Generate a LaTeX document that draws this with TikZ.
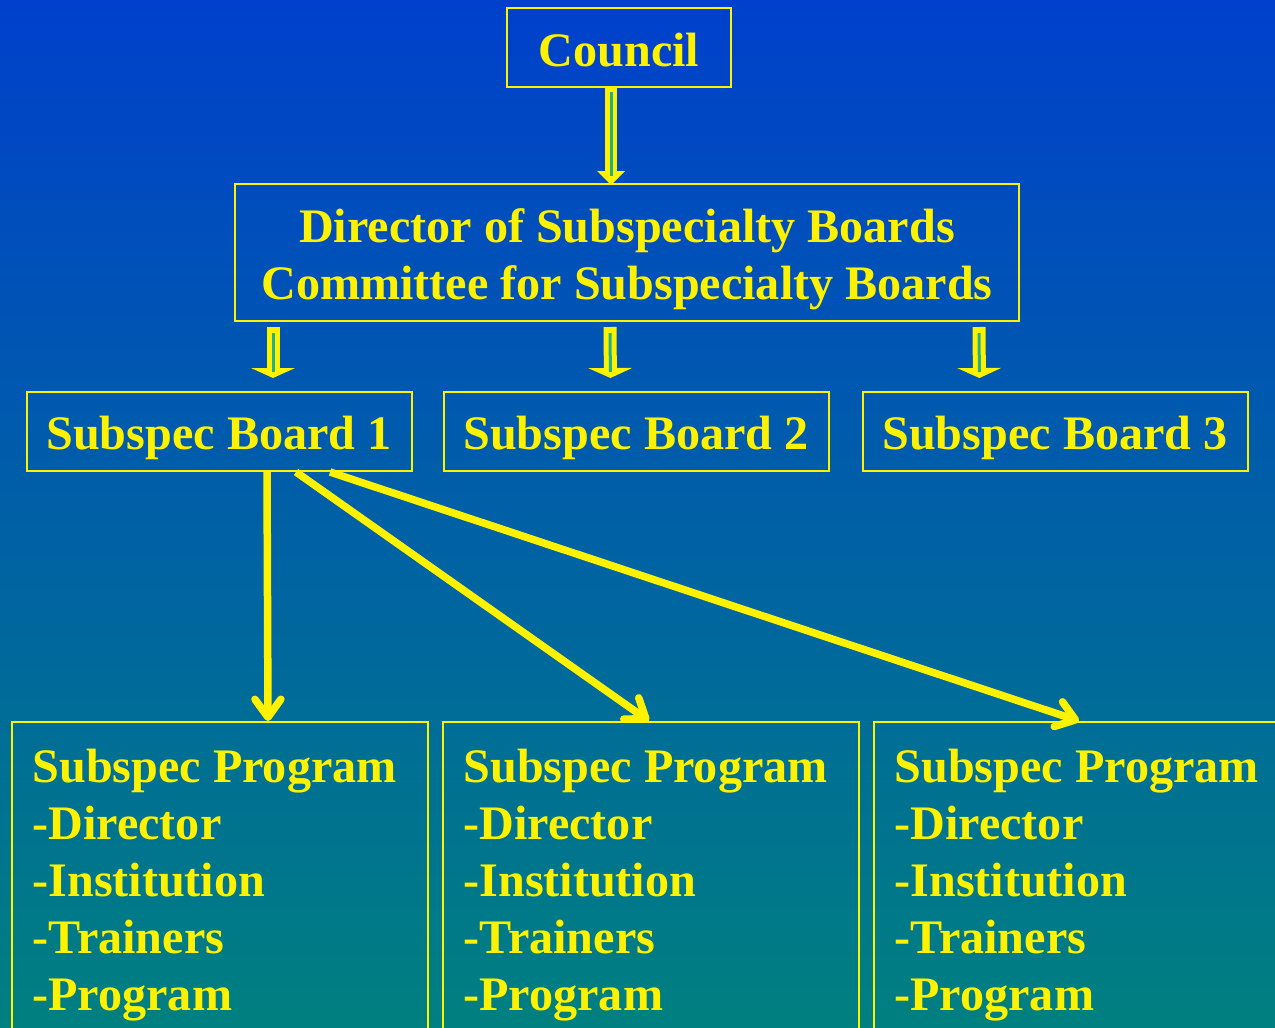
\documentclass[tikz,border=0pt]{standalone}
\usepackage{fontspec}
\setmainfont{Liberation Serif}
\usetikzlibrary{arrows.meta, positioning}

\newlength{\pxu}
\setlength{\pxu}{0.02cm}

\definecolor{bgtop}{RGB}{0,64,204}
\definecolor{bgbot}{RGB}{0,128,128}
\definecolor{core}{RGB}{32,176,144}

\tikzset{
    box/.style={draw=yellow, line width=2\pxu, inner sep=0pt, text=yellow,
        font=\fontsize{27.4}{32.4}\selectfont\bfseries},
    board/.style={box, minimum width=385\pxu, minimum height=79\pxu,
        text height=20.5pt, text depth=0pt},
    program/.style={box, minimum width=416\pxu, text width=375\pxu, align=flush left,
        inner xsep=20\pxu, inner ysep=27\pxu},
    fat/.style={draw=yellow, line width=13\pxu, shorten <=5\pxu, shorten >=13\pxu,
        -{Triangle[width=0.88cm, length=0.2cm, line width=0pt]}},
    fatcore/.style={draw=core, line width=3\pxu, shorten <=11\pxu, shorten >=19\pxu},
    thin/.style={draw=yellow, line width=7.5\pxu,
        -{Straight Barb[round, length=0.36cm, width=0.52cm]}}
}

\begin{document}
\begin{tikzpicture}[x=0.02cm, y=-0.02cm]
    % background
    \useasboundingbox (0,0) rectangle (1275,1028);
    \clip (0,0) rectangle (1275,1028);
    \shade[top color=bgtop, bottom color=bgbot] (0,0) rectangle (1275,1028);

    % top of the tree
    \node[box, minimum width=224\pxu, minimum height=79\pxu, text height=22pt, text depth=0pt]
        (council) at (619,47.5) {Council};
    \node[box, minimum width=784\pxu, minimum height=137\pxu, align=center] (director) at (627,252.5)
        {\rule{0pt}{26.6pt}Director of Subspecialty Boards\\Committee for Subspecialty Boards};

    % the boards
    \node[board] (b1) at (219,431.5) {Subspec Board 1};
    \node[board, right=30\pxu of b1] (b2) {Subspec Board 2};
    \node[board, right=32\pxu of b2] (b3) {Subspec Board 3};

    % the programs
    \node[program, anchor=north west] (p1) at (11,721)
        {Subspec Program\\-Director\\-Institution\\-Trainers\\-Program};
    \node[program, right=13\pxu of p1] (p2)
        {Subspec Program\\-Director\\-Institution\\-Trainers\\-Program};
    \node[program, right=13\pxu of p2] (p3)
        {Subspec Program\\-Director\\-Institution\\-Trainers\\-Program};

    % council to director
    \draw[fat, shorten <=0pt, shorten >=-2\pxu, line width=12\pxu,
          -{Triangle[width=0.56cm, length=0.28cm, line width=0pt]}]
        ([xshift=-8\pxu]council.south) -- ([xshift=-16\pxu]director.north);
    \draw[fatcore, shorten <=4\pxu, shorten >=7\pxu]
        ([xshift=-8\pxu]council.south) -- ([xshift=-16\pxu]director.north);

    % director to the boards
    \draw[fat] ([xshift=39\pxu]director.south west) -- ([xshift=54\pxu]b1.north);
    \draw[fatcore] ([xshift=39\pxu]director.south west) -- ([xshift=54\pxu]b1.north);
    \draw[fat] ([xshift=-17\pxu]director.south) -- ([xshift=-25.5\pxu]b2.north);
    \draw[fatcore] ([xshift=-17\pxu]director.south) -- ([xshift=-25.5\pxu]b2.north);
    \draw[fat] ([xshift=352\pxu]director.south) -- ([xshift=-75.5\pxu]b3.north);
    \draw[fatcore] ([xshift=352\pxu]director.south) -- ([xshift=-75.5\pxu]b3.north);

    % board 1 to the programs
    \draw[thin] ([xshift=48\pxu]b1.south) -- ([xshift=48\pxu]p1.north);
    \draw[thin] ([xshift=77\pxu]b1.south) -- ([xshift=-2\pxu]p2.north);
    \draw[thin] ([xshift=111\pxu]b1.south) -- ([xshift=-3\pxu]p3.north);
\end{tikzpicture}
\end{document}
